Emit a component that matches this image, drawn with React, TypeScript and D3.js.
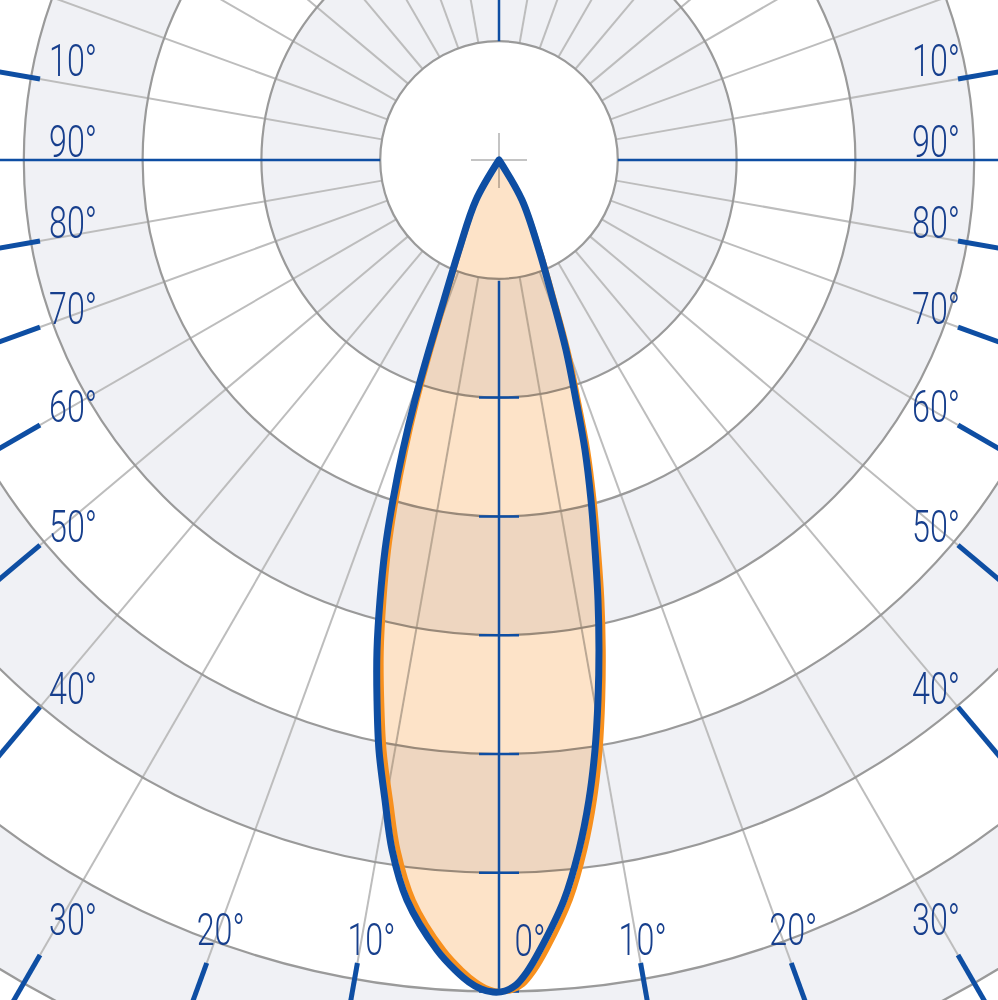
import React from 'react';
import * as d3 from 'd3';

const W = 998;
const H = 1000;
const CX = 499;
const CY = 160;

// ring values (cd) – one ring every 100
const ringValues = [100, 200, 300, 400, 500, 600, 700, 800, 900];
const axisTickValues = [200, 300, 400, 500, 600, 700];
// grey bands between these pairs
const bandPairs: [number, number][] = [[100, 200], [300, 400], [500, 600], [700, 800]];
// radial grid angles (deg from nadir)
const gridAngles = [10, 20, 30, 40, 50, 60, 70, 80, 100, 110, 120, 130, 140, 150, 160, 170];

// angle labels
const labelAngles = [100, 90, 80, 70, 60, 50, 40, 30, 20, 10];
const labelTexts = ['10°', '90°', '80°', '70°', '60°', '50°', '40°', '30°', '20°', '10°'];
const zeroLabel = '0°';

// photometric curves: angle from nadir (deg, negative = left) and intensity (cd)
const blueAngles = [-33, -29.9, -23.96, -21.45, -20.22, -19.29, -18.32, -17.32, -16.29, -15.13, -13.98, -12.73,
  -11.5, -10.1, -8.81, -7.09, -4.49, -3.11, -2.09, -1.24, -0.41, 0.41, 1.18, 1.97, 2.97, 5.02, 6.61, 8.0, 9.24, 10.39,
  11.53, 12.68, 13.83, 15.14, 16.52, 17.79, 19.43, 21.09, 23.96, 29.9, 33];
const blueValues = [0, 38.8, 82.9, 126.6, 170.4, 214.0, 257.2, 299.8, 342.0, 383.7, 425.1, 466.0,
  506.8, 547.2, 587.7, 627.7, 667.0, 682.8, 692.4, 698.0, 700.4, 699.5, 694.6, 683.9, 665.9, 625.3, 584.7, 544.0, 503.2,
  462.1, 421.0, 379.6, 338.1, 296.5, 254.6, 212.1, 169.6, 126.3, 82.9, 38.8, 0];
const orangeAngles = [-32.5, -29.4, -23.46, -20.95, -19.72, -18.79, -17.82, -16.82, -15.79, -14.63, -13.48, -12.23,
  -11.0, -9.6, -8.31, -6.59, -3.99, -2.61, -1.59, -0.74, 0.09, 0.91, 1.68, 2.47, 3.47, 5.52, 7.11, 8.5, 9.74, 10.89,
  12.03, 13.18, 14.33, 15.64, 17.02, 18.29, 19.93, 21.59, 24.46, 30.4, 33.5];
const orangeValues = [0, 38.8, 82.9, 126.6, 170.4, 214.0, 257.2, 299.8, 342.0, 383.7, 425.1, 466.0,
  506.8, 547.2, 587.5, 627.4, 666.7, 682.5, 692.0, 697.6, 700.0, 699.1, 694.2, 683.6, 665.9, 625.3, 584.7, 544.0, 503.2,
  462.1, 421.0, 379.6, 338.1, 296.5, 254.6, 212.1, 169.6, 126.3, 82.9, 38.8, 0];

const BLUE = '#0e4ea3';
const TEXT_BLUE = '#173f8d';
const ORANGE = '#f7901e';
const BAND = '#f0f1f5';
const RING = '#9a9a9a';
const SPOKE = '#bdbdbd';

const FRAME_LEFT = 40;
const FRAME_RIGHT = 958;
const FRAME_BOTTOM = 963;

export default function App() {
  const rScale = d3.scaleLinear().domain([0, 700]).range([0, 831.6]);
  const rad = (deg: number) => (deg * Math.PI) / 180;
  const toA = (deg: number) => Math.PI - rad(deg);
  const pt = (deg: number, r: number): [number, number] => [CX + r * Math.sin(rad(deg)), CY + r * Math.cos(rad(deg))];

  const radial = d3
    .lineRadial<[number, number]>()
    .angle((d) => toA(d[0]))
    .radius((d) => rScale(d[1]))
    .curve(d3.curveCatmullRom.alpha(0.5));

  const bluePath = radial(blueAngles.map((a, i) => [a, blueValues[i]] as [number, number])) + 'Z';
  const orangePath = radial(orangeAngles.map((a, i) => [a, orangeValues[i]] as [number, number])) + 'Z';

  const arc = d3.arc<any>();
  const r1 = rScale(100);

  // frame hit for angle ticks
  const frameHit = (deg: number) => {
    const s = Math.sin(rad(deg));
    const c = Math.cos(rad(deg));
    const dxLim = s < 0 ? CX - FRAME_LEFT : FRAME_RIGHT - CX;
    const tx = Math.abs(s) > 1e-6 ? dxLim / Math.abs(s) : Infinity;
    const ty = c > 1e-6 ? (FRAME_BOTTOM - CY) / c : Infinity;
    return { r: Math.min(tx, ty), side: tx <= ty };
  };

  const angleMarks: { deg: number; text: string; tick: boolean }[] = [];
  labelAngles.forEach((a, i) => {
    angleMarks.push({ deg: -a, text: labelTexts[i], tick: a !== 90 });
    angleMarks.push({ deg: a, text: labelTexts[i], tick: a !== 90 });
  });

  return (
    <svg width={W} height={H} style={{ position: 'absolute', left: 0, top: 0, background: '#fff' }}>
      <rect x={0} y={0} width={W} height={H} fill="#fff" />
      <g transform={`translate(${CX},${CY})`}>
        {bandPairs.map(([a, b], i) => (
          <path
            key={i}
            d={arc({ innerRadius: rScale(a), outerRadius: rScale(b), startAngle: 0, endAngle: 2 * Math.PI }) || ''}
            fill={BAND}
          />
        ))}
      </g>
      {/* radial spokes */}
      {gridAngles.flatMap((a) => [a, -a]).map((a, i) => {
        const [x1, y1] = pt(a, r1);
        const [x2, y2] = pt(a, 1400);
        return <line key={i} x1={x1} y1={y1} x2={x2} y2={y2} stroke={SPOKE} strokeWidth={2} />;
      })}
      {/* rings */}
      {ringValues.map((v) => (
        <circle key={v} cx={CX} cy={CY} r={rScale(v)} fill="none" stroke={RING} strokeWidth={2.2} />
      ))}
      {/* centre cross */}
      <line x1={CX - 28} y1={CY} x2={CX + 28} y2={CY} stroke="#c4c4c4" strokeWidth={2} />
      <line x1={CX} y1={CY - 27} x2={CX} y2={CY + 28} stroke="#c4c4c4" strokeWidth={2} />

      {/* fill */}
      <g transform={`translate(${CX},${CY})`}>
        <path d={bluePath} fill="#fde3c8" style={{ mixBlendMode: 'multiply' }} />
      </g>

      {/* blue axes */}
      <line x1={0} y1={CY} x2={CX - r1} y2={CY} stroke={BLUE} strokeWidth={2.5} />
      <line x1={CX + r1} y1={CY} x2={W} y2={CY} stroke={BLUE} strokeWidth={2.5} />
      <line x1={CX} y1={0} x2={CX} y2={CY - r1} stroke={BLUE} strokeWidth={2.5} />
      <line x1={CX} y1={CY + r1 + 2} x2={CX} y2={CY + rScale(700)} stroke={BLUE} strokeWidth={2.5} />
      {axisTickValues.map((v) => (
        <line key={v} x1={CX - 20} y1={CY + rScale(v)} x2={CX + 20} y2={CY + rScale(v)} stroke={BLUE} strokeWidth={2.5} />
      ))}

      {/* curves */}
      <g transform={`translate(${CX},${CY})`}>
        <path d={orangePath} fill="none" stroke={ORANGE} strokeWidth={5} strokeLinejoin="round" />
        <path d={bluePath} fill="none" stroke={BLUE} strokeWidth={7} strokeLinejoin="round" />
      </g>

      {/* angle ticks and labels */}
      {angleMarks.map((m, i) => {
        const hit = frameHit(m.deg);
        const [px, py] = pt(m.deg, hit.r);
        const [qx, qy] = pt(m.deg, hit.r + 70);
        const left = m.deg < 0;
        let cx: number;
        if (hit.side) {
          cx = left ? px + 33 : px - 22;
        } else {
          cx = left ? px + 14 : px + 2;
        }
        const cy = Math.min(py - 19, 949 - Math.abs(m.deg));
        return (
          <g key={i}>
            {m.tick && <line x1={px} y1={py} x2={qx} y2={qy} stroke={BLUE} strokeWidth={5} />}
            <text
              x={cx}
              y={cy + 16}
              textAnchor="middle"
              textLength={48}
              lengthAdjust="spacingAndGlyphs"
              fontFamily="Roboto, 'Open Sans', sans-serif"
              fontWeight={300}
              fontSize={45}
              fill={TEXT_BLUE}
            >
              {m.text}
            </text>
          </g>
        );
      })}
      <text
        x={CX + 31}
        y={940 + 16}
        textAnchor="middle"
        textLength={31}
        lengthAdjust="spacingAndGlyphs"
        fontFamily="Roboto, 'Open Sans', sans-serif"
        fontWeight={300}
        fontSize={45}
        fill={TEXT_BLUE}
      >
        {zeroLabel}
      </text>
    </svg>
  );
}
